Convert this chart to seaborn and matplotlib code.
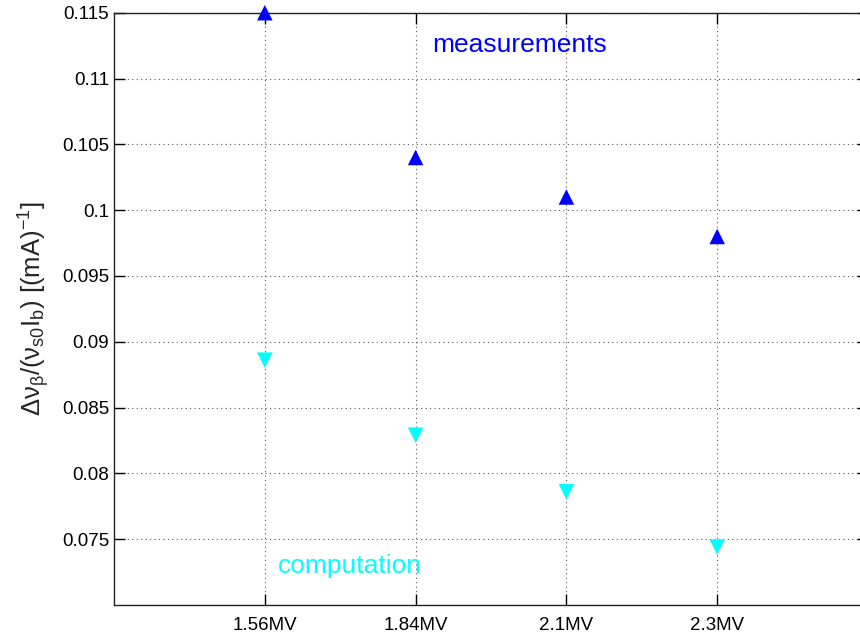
import matplotlib
matplotlib.use("Agg")
import matplotlib.pyplot as plt
import seaborn as sns
import pandas as pd

voltages = ["1.56MV", "1.84MV", "2.1MV", "2.3MV"]
measurements = [0.115, 0.104, 0.101, 0.098]
computation = [0.0886, 0.0829, 0.0786, 0.0744]
yticks = [0.075, 0.08, 0.085, 0.09, 0.095, 0.1, 0.105, 0.11, 0.115]
ytick_labels = ["0.075", "0.08", "0.085", "0.09", "0.095", "0.1", "0.105", "0.11", "0.115"]

sns.set_theme(style="ticks")
plt.rcParams["font.family"] = ["Liberation Sans", "DejaVu Sans"]
plt.rcParams["mathtext.fontset"] = "custom"
plt.rcParams["mathtext.rm"] = "Liberation Sans"
plt.rcParams["mathtext.it"] = "Liberation Sans"
plt.rcParams["mathtext.bf"] = "Liberation Sans"

df_m = pd.DataFrame({"voltage": voltages, "value": measurements})
df_c = pd.DataFrame({"voltage": voltages, "value": computation})

fig = plt.figure(figsize=(8.6, 6.38), dpi=100)
ax = fig.add_axes([114/860, 33/638, 754/860, 592.3/638])

sns.scatterplot(data=df_m, x="voltage", y="value", marker="^", s=125,
                color="#0000ff", edgecolor="none", ax=ax, zorder=3, clip_on=False)
sns.scatterplot(data=df_c, x="voltage", y="value", marker="v", s=125,
                color="#00ffff", edgecolor="none", ax=ax, zorder=3, clip_on=False)

ax.set_xlim(-1, 4)
ax.set_ylim(0.07, 0.115)
ax.set_xticks(range(len(voltages)))
ax.set_xticklabels(voltages)
ax.set_yticks(yticks)
ax.set_yticklabels(ytick_labels)
ax.set_xlabel("")
ax.set_ylabel(r"$\Delta\nu_\beta/(\nu_{s0}I_b)$ [(mA)$^{-1}$]", fontsize=18.5, labelpad=7)

ax.grid(True, linestyle=(0, (1, 3)), color="#555555", linewidth=0.8)
ax.tick_params(axis="both", direction="in", length=8, labelsize=13.5, colors="black",
               top=True, right=True, width=1)
ax.tick_params(axis="x", pad=9)
for sp in ax.spines.values():
    sp.set_color("#222222")
    sp.set_linewidth(1)

ax.text(1.69, 0.11255, "measurements", color="#0000ff", fontsize=19,
        ha="center", va="center")
ax.text(0.564, 0.0730, "computation", color="#00ffff", fontsize=19,
        ha="center", va="center")

fig.savefig("out.png", dpi=100)
